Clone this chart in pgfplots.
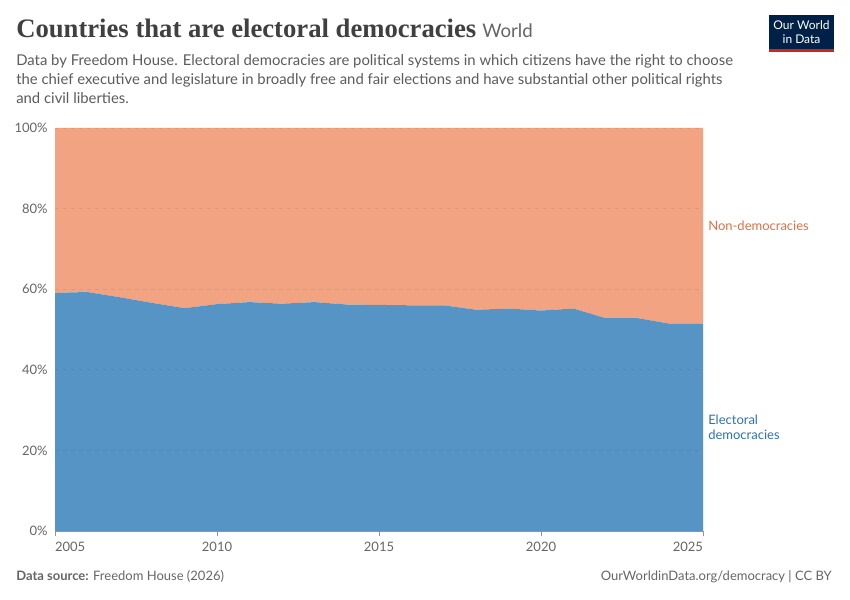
\documentclass[border=0pt]{standalone}
\usepackage{pgfplots}
\pgfplotsset{compat=1.18}
\usepackage{fontspec}
\setmainfont{Lato}
\newfontfamily\titlefont{Liberation Serif}
\definecolor{edblue}{RGB}{87,148,198}
\definecolor{ndorange}{RGB}{242,163,130}
\definecolor{edtext}{RGB}{44,115,182}
\definecolor{ndtext}{RGB}{222,112,74}
\definecolor{titlegray}{RGB}{64,64,64}
\definecolor{subgray}{RGB}{92,92,92}
\definecolor{tickgray}{RGB}{102,102,102}
\definecolor{owidnavy}{RGB}{0,33,71}
\definecolor{owidred}{RGB}{206,38,30}
\pgfplotstableread{
year ed nd
2005 59.1 40.9
2006 59.3 40.7
2007 58.0 42.0
2008 56.6 43.4
2009 55.3 44.7
2010 56.3 43.7
2011 56.8 43.2
2012 56.4 43.6
2013 56.8 43.2
2014 56.2 43.8
2015 56.1 43.9
2016 56.0 44.0
2017 56.0 44.0
2018 54.9 45.1
2019 55.2 44.8
2020 54.7 45.3
2021 55.2 44.8
2022 52.8 47.2
2023 52.8 47.2
2024 51.4 48.6
2025 51.4 48.6
}\datatable
\begin{document}
\begin{tikzpicture}
\useasboundingbox[fill=white] (0,0) rectangle (637.5pt,450pt);
\begin{axis}[
  at={(41.25pt,51.75pt)}, anchor=south west,
  scale only axis, width=486pt, height=302.25pt,
  xmin=2005, xmax=2025, ymin=0, ymax=100,
  stack plots=y, area style,
  axis lines=left,
  y axis line style={draw=none},
  x axis line style={draw=tickgray!70, line width=0.6pt, -},
  xtick={2005,2010,...,2025},
  ytick={0,20,...,100},
  yticklabel={\pgfmathprintnumber{\tick}\%},
  xticklabel={\pgfmathtruncatemacro\tpos{\tick<2006 ? 1 : (\tick>2024 ? 2 : 0)}%
    \ifcase\tpos\relax\pgfmathprintnumber{\tick}\or\makebox[0pt][l]{\pgfmathprintnumber{\tick}}\or\makebox[0pt][r]{\pgfmathprintnumber{\tick}}\fi},
  /pgf/number format/assume math mode=true,
  /pgf/number format/1000 sep={},
  tick label style={font=\fontsize{9.75}{11}\selectfont, text=tickgray},
  ytick style={draw=none},
  xtick style={draw=tickgray!70, line width=0.6pt},
  tick align=outside, major tick length=4pt,
  xticklabel style={yshift=-1pt},
  yticklabel style={xshift=2pt},
  ymajorgrids, grid style={dashed, draw=black, opacity=0.07, line width=0.5pt},
  axis on top,
  clip=false,
]
\addplot[fill=edblue, draw=none] table[x=year, y=ed] {\datatable} \closedcycle;
\addplot[fill=ndorange, draw=none] table[x=year, y=nd] {\datatable} \closedcycle;
\end{axis}
\begin{scope}[yshift=450pt, x=0.75pt, y=-0.75pt]
  \node[anchor=base west, inner sep=0, text=titlegray, font=\titlefont\bfseries\fontsize{20.0}{24}\selectfont] at (16,38) {Countries that are electoral democracies};
  \node[anchor=base west, inner sep=0, text=tickgray, font=\fontsize{14}{16}\selectfont] at (482,38) {World};
  \node[anchor=base west, inner sep=0, text=subgray, font=\fontsize{11.15}{14}\selectfont] at (16,66) {Data by Freedom House. Electoral democracies are political systems in which citizens have the right to choose};
  \node[anchor=base west, inner sep=0, text=subgray, font=\fontsize{11.15}{14}\selectfont] at (16,85) {the chief executive and legislature in broadly free and fair elections and have substantial other political rights};
  \node[anchor=base west, inner sep=0, text=subgray, font=\fontsize{11.15}{14}\selectfont] at (16,104) {and civil liberties.};
  % logo
  \fill[owidnavy] (769,15) rectangle (834,49);
  \fill[owidred] (769,49) rectangle (834,52);
  \node[text=white, font=\fontsize{9}{10}\selectfont, align=center, inner sep=0] at (801.5,32) {Our World\\in Data};
  % labels
  \node[anchor=base west, inner sep=0, text=ndtext, font=\fontsize{9.75}{11}\selectfont] at (708,231) {Non-democracies};
  \node[anchor=base west, inner sep=0, text=edtext, font=\fontsize{9.75}{11}\selectfont] at (708,425) {Electoral};
  \node[anchor=base west, inner sep=0, text=edtext, font=\fontsize{9.75}{11}\selectfont] at (708,440) {democracies};
  % footer
  \node[anchor=base west, inner sep=0, text=tickgray, font=\fontsize{9.75}{11}\selectfont] at (16,581) {\textbf{Data source:} Freedom House (2026)};
  \node[anchor=base east, inner sep=0, text=tickgray, font=\fontsize{9.75}{11}\selectfont] at (832,581) {OurWorldinData.org/democracy | CC BY};
\end{scope}
\end{tikzpicture}
\end{document}
